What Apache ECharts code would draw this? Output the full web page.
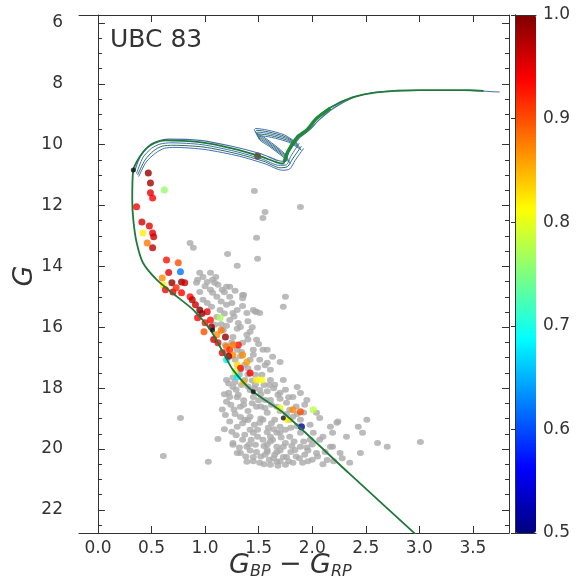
<!DOCTYPE html>
<html>
<head>
<meta charset="utf-8">
<script src="https://cdn.jsdelivr.net/npm/echarts@6/dist/echarts.min.js"></script>
<style>html,body{margin:0;padding:0;background:#fff}#c{width:582px;height:583px}</style>
</head>
<body>
<div id="c"></div>
<script>
// ---- data ----
const xTicks = [0.0, 0.5, 1.0, 1.5, 2.0, 2.5, 3.0, 3.5];
const yTicks = [6, 8, 10, 12, 14, 16, 18, 20, 22];
const yMinor = [6.5,7,7.5,8.5,9,9.5,10.5,11,11.5,12.5,13,13.5,14.5,15,15.5,16.5,17,17.5,18.5,19,19.5,20.5,21,21.5,22.5];
const cbTicks = [0.5, 0.6, 0.7, 0.8, 0.9, 1.0];

// field stars (grey) : [colour, G]
const fieldStars = [
 [1.46,11.52],[1.56,12.21],[1.54,12.41],[1.89,12.05],[1.48,13.06],[1.49,13.75],[0.86,13.23],[0.89,13.39],
 [1.21,13.59],[1.30,13.98],[1.75,15.0],[1.36,14.94],[1.47,15.49],[1.20,14.67],
 [0.95,14.21],[1.05,14.21],[0.93,14.44],[1.02,14.51],[1.07,14.44],[1.23,14.67],[1.35,14.94],[1.05,14.77],
 [0.95,14.84],[1.11,15.0],[1.23,15.0],[1.20,15.26],[1.30,15.43],[1.14,15.43],[1.06,15.33],[1.11,15.66],
 [1.23,15.76],[1.33,15.99],[1.17,16.09],[1.26,16.32],[1.35,16.51],[1.45,16.74],[1.30,16.74],[1.20,16.81],
 [1.02,15.20],[0.98,15.10],[1.16,14.77],[1.39,15.53],[1.45,15.43],[1.09,14.54],[1.51,15.53],[1.31,15.86],
 [1.39,16.25],[1.58,16.74],[1.34,16.81],[0.92,14.54],[1.07,14.87],[1.48,15.49],[1.26,15.53],[1.73,15.33],
 [1.48,16.41],[1.54,16.74],[1.63,16.97],[1.58,17.17],[1.42,17.07],[1.49,17.33],
 [1.09,15.92],[1.19,16.58],[1.28,17.07],[1.37,17.23],[1.47,17.56],[1.61,17.40],[1.51,17.07],[1.70,17.14],[1.65,17.89],
 [1.20,17.73],[1.26,17.96],[1.23,18.29],[1.33,18.61],[1.20,18.45],[1.30,19.27],[1.42,18.94],[1.51,19.14],
 [1.45,19.47],[1.26,19.80],[1.39,19.93],[1.33,20.13],[1.45,20.26],[1.58,20.03],[1.51,20.45],[1.67,20.42],
 [1.76,20.26],[1.82,20.45],[1.63,19.70],[1.73,19.93],[1.54,19.70],[1.70,19.27],[1.58,18.81],[1.45,18.29],
 [1.51,18.06],[1.61,17.73],[1.76,18.48],[1.67,18.61],[1.82,18.94],[1.79,19.60],[1.61,18.39],[1.67,19.47],
 [1.42,18.06],[1.48,18.61],[1.54,19.04],[1.61,19.60],[1.67,19.93],[1.73,20.26],[1.91,20.45],[1.89,19.93],
 [1.79,19.04],[1.89,19.47],[2.01,19.47],[2.04,18.81],[1.89,18.16],[1.86,17.96],[1.73,17.73],[1.82,18.29],
 [1.98,19.70],[2.04,20.13],[2.14,20.36],[2.19,19.93],[2.26,20.13],[2.35,20.45],[2.45,20.13],[2.23,19.14],
 [2.19,19.47],[2.32,19.60],[2.43,19.27],[2.51,19.04],[2.47,19.47],[2.61,19.80],[2.70,19.93],[3.01,19.77],
 [2.17,19.93],[0.77,18.98],[0.61,20.23],[1.03,20.42],[1.12,19.67],[1.26,19.86],[1.30,20.13],[1.39,20.42],
 [1.33,17.40],[1.37,17.73],[1.31,18.22],[1.37,19.04],[1.47,19.86],[1.56,20.19],[1.61,20.52],[1.75,20.52],
 [1.65,19.04],[1.56,18.39],[1.75,19.37],[1.84,20.03],[1.93,20.19],[1.98,19.20],[2.07,19.70],[1.37,19.53],
 [1.49,19.37],[1.59,19.30],[1.68,18.22],[1.53,17.56],[1.47,17.89],[1.79,18.71],[1.19,18.88],[1.25,19.43],
 [1.89,19.04],[1.93,18.55],[1.65,20.19],[1.42,19.37],[1.95,18.39],[2.07,18.98],[2.17,19.27],[2.24,19.10],
 [1.36,18.40],[1.29,18.05],[1.40,18.75],[1.52,18.60],[1.62,19.15],[1.71,19.62],[1.83,19.75],[1.95,19.95],
 [1.58,19.85],[1.48,20.10],[1.70,20.05],[1.38,20.25],[2.10,20.50],[2.00,20.35],[1.85,20.25],[1.60,20.35],
 [1.43,19.70],[1.35,19.15],[1.28,18.85],[1.24,18.55],[1.40,17.55],[1.55,17.90],[1.75,18.05],[1.85,18.60],
 [1.22,17.85],[1.28,17.80],[1.34,17.90],[1.40,17.95],[1.46,18.00],[1.52,18.20],[1.58,18.10],[1.64,18.00],[1.70,18.35],[1.78,18.30],
 [1.22,18.15],[1.30,18.30],[1.36,18.55],[1.44,18.50],[1.50,18.40],[1.56,18.65],[1.62,18.55],[1.70,18.75],[1.76,18.85],[1.86,18.85],
 [1.27,18.70],[1.33,18.95],[1.40,19.05],[1.46,19.20],[1.52,19.00],[1.58,19.45],[1.64,19.35],[1.70,19.45],[1.80,19.30],[1.86,19.25],
 [1.29,19.55],[1.35,19.70],[1.41,19.85],[1.49,19.60],[1.55,19.90],[1.61,19.75],[1.67,20.10],[1.75,19.80],[1.81,19.90],[1.92,19.75],
 [1.32,19.95],[1.42,20.05],[1.52,20.25],[1.58,20.10],[1.64,20.30],[1.70,20.40],[1.80,20.10],[1.88,20.30],[1.96,20.40],[2.05,20.25],
 [1.45,20.40],[1.55,20.50],[1.68,20.55],[1.78,20.40],[1.96,20.05],[2.12,20.10],[2.20,20.40],[2.28,20.30],[2.00,19.85],[2.10,19.60],
 [1.23,19.10],[1.18,19.35],[1.16,18.70],[1.18,18.20],[1.26,17.65],[1.32,17.55],[1.44,17.75],[1.60,17.90],[1.70,18.15],[1.92,18.80],
 [1.00,14.65],[1.12,14.60],[1.18,14.85],[1.28,14.80],[1.15,15.15],[1.25,15.20],[1.35,15.30],[1.18,15.55],[1.27,15.65],[1.40,15.80],
 [1.20,15.95],[1.30,16.05],[1.42,16.15],[1.25,16.50],[1.40,16.40],[1.50,16.55],[1.33,16.95],[1.45,16.90],[1.56,17.25],[1.40,17.35],
 [0.98,14.35],[1.10,14.35],[1.15,15.90],[1.35,15.05],[1.44,16.00]
];

// members : [colour, G, membership probability]
const members = [
 [0.47,10.93,0.99],[0.49,11.26,0.98],[0.49,11.58,0.95],[0.51,11.75,0.94],[0.62,11.49,0.76],[0.36,12.04,0.94],
 [0.41,12.54,0.96],[0.48,12.67,0.95],[0.51,12.90,0.95],[0.52,13.03,0.96],[0.42,12.90,0.82],[0.46,13.23,0.88],
 [0.51,13.39,0.97],[0.64,13.79,0.93],[0.75,13.88,0.90],[0.77,14.18,0.62],[0.60,14.38,0.87],[0.69,14.54,0.99],
 [0.78,14.51,0.99],[0.61,14.61,0.82],[0.63,14.77,0.94],[0.70,14.84,0.95],[0.78,14.87,0.94],[0.86,15.00,0.93],
 [0.81,14.54,0.96],[0.91,15.26,0.96],[0.95,15.43,1.00],[1.02,15.49,0.95],[0.93,15.69,0.94],[1.05,15.76,0.93],
 [1.14,15.69,0.77],[1.06,15.99,0.99],[0.99,16.15,0.90],[1.11,16.25,0.87],[1.19,16.32,0.99],[1.12,16.51,0.94],
 [1.20,16.64,0.88],[1.23,16.74,0.92],[1.16,16.84,0.95],[1.26,16.91,0.87],[1.35,16.91,0.87],[1.39,17.14,0.86],
 [1.20,17.07,0.68],[1.30,17.23,0.83],[1.42,17.50,0.94],[1.48,17.73,0.82],[1.53,17.73,0.81],[1.30,17.63,0.68],
 [1.31,16.58,0.93],[1.26,16.58,0.88],[1.70,18.65,0.80],[1.82,18.71,0.87],[1.89,18.78,0.90],[1.77,19.04,0.82],
 [1.90,19.27,0.52],[2.01,18.71,0.78],[1.49,10.37,0.99],
 [0.88,15.10,0.97],[0.97,15.55,0.99],[1.00,15.85,0.93],[1.08,16.40,0.96],[1.15,16.10,0.88],[1.22,16.95,0.99],
 [1.33,17.35,0.93],[1.36,17.80,0.85],[1.28,17.45,0.78],[0.73,14.70,0.92],[0.66,14.20,0.95]
];

// marked points on the isochrone
const isoMarks = [[0.33,10.83],[1.07,16.09],[1.45,18.12],[1.73,18.98]];

// best-fit isochrone (MS -> turn-off -> SGB -> RGB)
const isoMain = [
 [2.98,22.85],[2.35,20.82],[1.73,18.81],[1.45,18.12],[1.26,17.40],[1.17,16.84],[1.05,16.09],[0.89,15.43],
 [0.74,15.00],[0.55,14.44],[0.42,13.88],[0.36,13.20],[0.33,12.47],[0.32,11.81],[0.33,10.83],[0.39,10.40],
 [0.46,10.10],[0.53,9.94],[0.63,9.86],[0.95,9.92],[1.26,10.13],[1.51,10.38],[1.67,10.58],[1.73,10.62],
 [1.76,10.30],[1.86,9.76],[1.95,9.52],[2.04,9.14],[2.17,8.78],[2.38,8.44],[2.60,8.28],[3.00,8.21],[3.47,8.21],[3.60,8.23]
];
// lower red-giant branch, where the isochrones overlap (drawn thicker)
const rgbBase = [[1.74,10.55],[1.77,10.25],[1.86,9.76],[1.95,9.52],[2.04,9.14],[2.17,8.80]];
// neighbouring isochrones (turn-off, sub-giant branch, RGB)
const isoB = [[0.34,10.90],[0.40,10.35],[0.48,10.03],[0.56,9.88],[0.66,9.82],[0.95,9.86],[1.26,10.06],[1.52,10.30],[1.68,10.52],[1.75,10.55],[1.78,10.25],[1.88,9.78],[1.97,9.53],[2.07,9.17],[2.20,8.80],[2.40,8.43],[2.62,8.27],[3.00,8.22],[3.40,8.22],[3.75,8.27]];
const isoC = [[0.36,10.95],[0.42,10.42],[0.50,10.12],[0.58,9.98],[0.68,9.94],[0.97,10.00],[1.28,10.22],[1.53,10.47],[1.69,10.68],[1.76,10.66],[1.80,10.38],[1.88,9.95]];
const isoD = [[0.37,11.00],[0.44,10.50],[0.52,10.20],[0.60,10.05],[0.70,10.02],[0.99,10.08],[1.30,10.30],[1.55,10.55],[1.70,10.76],[1.77,10.72],[1.82,10.45],[1.90,10.05]];
const isoE = [[0.38,11.05],[0.45,10.57],[0.54,10.27],[0.62,10.12],[0.72,10.09],[1.00,10.16],[1.32,10.38],[1.56,10.63],[1.72,10.84],[1.79,10.80],[1.84,10.52],[1.92,10.12]];
// red-clump loops
const clump1 = [[1.86,9.95],[1.74,9.68],[1.58,9.52],[1.47,9.47],[1.46,9.53],[1.56,9.78],[1.68,10.10],[1.76,10.35]];
const clump2 = [[1.87,10.00],[1.75,9.74],[1.59,9.58],[1.48,9.53],[1.47,9.59],[1.57,9.85],[1.69,10.17],[1.77,10.42]];
const clump3 = [[1.88,10.06],[1.76,9.80],[1.60,9.64],[1.49,9.59],[1.48,9.66],[1.58,9.92],[1.70,10.24],[1.78,10.48]];
const clump4 = [[1.89,10.12],[1.77,9.86],[1.61,9.70],[1.50,9.65],[1.49,9.72],[1.59,9.99],[1.71,10.31],[1.79,10.55]];
const clump5 = [[1.90,10.18],[1.78,9.92],[1.62,9.76],[1.51,9.71],[1.50,9.79],[1.60,10.06],[1.72,10.38],[1.80,10.62]];

const jet = ['#00007f','#0000ff','#007fff','#00ffff','#7fff7f','#ffff00','#ff7f00','#ff0000','#7f0000'];

const axisCol = '#333';
const lblFont = {fontSize: 17, color: '#333', fontFamily: 'DejaVu Sans'};
const XMIN = -0.177, XMAX = 3.837, YMIN = 5.74, YMAX = 22.76;

function isoLine(data, color, width, z) {
  return {type: 'line', data: data, showSymbol: false, smooth: 0.25, silent: true,
          lineStyle: {color: color, width: width}, z: z, xAxisIndex: 0, yAxisIndex: 0};
}

const chart = echarts.init(document.getElementById('c'), null, {renderer: 'canvas'});
chart.setOption({
  animation: false,
  backgroundColor: '#fff',
  grid: [
    {left: 79, right: 73, top: 15, bottom: 50},
    {left: 515, width: 21, top: 15, height: 518}
  ],
  xAxis: [
    {type: 'value', gridIndex: 0, position: 'bottom', min: XMIN, max: XMAX, splitLine: {show: false},
     axisLine: {lineStyle: {color: axisCol, width: 1}},
     axisTick: {inside: true, length: 7, customValues: xTicks, lineStyle: {color: axisCol}},
     axisLabel: Object.assign({customValues: xTicks, margin: 7, formatter: v => v.toFixed(1)}, lblFont)},
    {type: 'value', gridIndex: 0, position: 'top', min: XMIN, max: XMAX, splitLine: {show: false},
     axisLine: {lineStyle: {color: axisCol, width: 1}},
     axisTick: {inside: true, length: 7, customValues: xTicks, lineStyle: {color: axisCol}},
     axisLabel: {show: false}},
    {type: 'value', gridIndex: 1, position: 'bottom', min: 0, max: 1, z: 10, splitLine: {show: false},
     axisLine: {lineStyle: {color: axisCol}}, axisTick: {show: false}, axisLabel: {show: false}},
    {type: 'value', gridIndex: 1, position: 'top', min: 0, max: 1, z: 10, splitLine: {show: false},
     axisLine: {lineStyle: {color: axisCol}}, axisTick: {show: false}, axisLabel: {show: false}}
  ],
  yAxis: [
    {type: 'value', gridIndex: 0, position: 'left', inverse: true, min: YMIN, max: YMAX, splitLine: {show: false},
     axisLine: {lineStyle: {color: axisCol, width: 1}},
     axisTick: {inside: true, length: 7, customValues: yTicks, lineStyle: {color: axisCol}},
     axisLabel: Object.assign({customValues: yTicks, margin: 16}, lblFont)},
    {type: 'value', gridIndex: 0, position: 'left', inverse: true, min: YMIN, max: YMAX, splitLine: {show: false},
     axisLine: {show: false},
     axisTick: {inside: true, length: 4, customValues: yMinor, lineStyle: {color: axisCol}},
     axisLabel: {show: false}},
    {type: 'value', gridIndex: 0, position: 'right', inverse: true, min: YMIN, max: YMAX, splitLine: {show: false},
     axisLine: {lineStyle: {color: axisCol, width: 1}},
     axisTick: {inside: true, length: 7, customValues: yTicks, lineStyle: {color: axisCol}},
     axisLabel: {show: false}},
    {type: 'value', gridIndex: 0, position: 'right', inverse: true, min: YMIN, max: YMAX, splitLine: {show: false},
     axisLine: {show: false},
     axisTick: {inside: true, length: 4, customValues: yMinor, lineStyle: {color: axisCol}},
     axisLabel: {show: false}},
    {type: 'value', gridIndex: 1, position: 'right', min: 0.5, max: 1.0, interval: 0.1, z: 10, splitLine: {show: false},
     axisLine: {lineStyle: {color: axisCol}},
     axisTick: {inside: true, length: 4, lineStyle: {color: axisCol}},
     axisLabel: Object.assign({margin: 7, formatter: v => v.toFixed(1)}, lblFont)},
    {type: 'value', gridIndex: 1, position: 'left', min: 0.5, max: 1.0, z: 10, splitLine: {show: false},
     axisLine: {lineStyle: {color: axisCol}}, axisTick: {show: false}, axisLabel: {show: false}}
  ],
  visualMap: [{
    type: 'continuous', seriesIndex: 1, dimension: 2, min: 0.5, max: 1.0,
    left: 515, top: 15, itemWidth: 21, itemHeight: 518, padding: 0,
    calculable: false, text: null, showLabel: false, realtime: false,
    inRange: {color: jet}, z: 2
  }],
  graphic: [
    {type: 'text', left: 110, top: 28, style: {text: 'UBC 83', font: '25px "DejaVu Sans"', fill: '#333'}},
    {type: 'text', x: 25, y: 276, rotation: Math.PI / 2,
     style: {text: 'G', font: 'italic 27px "DejaVu Sans"', fill: '#333', align: 'center', verticalAlign: 'middle'}},
    {type: 'text', x: 229, y: 579, style: {text: 'G', font: 'italic 27px "DejaVu Sans"', fill: '#333', align: 'left', verticalAlign: 'bottom'}},
    {type: 'text', x: 250, y: 580, style: {text: 'BP', font: 'italic 16px "DejaVu Sans"', fill: '#333', align: 'left', verticalAlign: 'bottom'}},
    {type: 'text', x: 279, y: 578, style: {text: '\u2212', font: '27px "DejaVu Sans"', fill: '#333', align: 'left', verticalAlign: 'bottom'}},
    {type: 'text', x: 310, y: 579, style: {text: 'G', font: 'italic 27px "DejaVu Sans"', fill: '#333', align: 'left', verticalAlign: 'bottom'}},
    {type: 'text', x: 331, y: 580, style: {text: 'RP', font: 'italic 16px "DejaVu Sans"', fill: '#333', align: 'left', verticalAlign: 'bottom'}}
  ],
  series: [
    {type: 'scatter', data: fieldStars, symbolSize: [7, 6], itemStyle: {color: '#aaaaaa'}, z: 2, xAxisIndex: 0, yAxisIndex: 0, silent: true},
    {type: 'scatter', data: members, symbolSize: 7, z: 3, xAxisIndex: 0, yAxisIndex: 0, silent: true},
    isoLine(isoE, '#3f6fb5', 1, 4),
    isoLine(isoD, '#2a6f5a', 1, 4),
    isoLine(isoC, '#3f6fb5', 1, 4),
    isoLine(isoB, '#4a70a8', 1.2, 4),
    isoLine(clump5, '#3f6fb5', 1, 4),
    isoLine(clump4, '#2a6f5a', 1, 4),
    isoLine(clump3, '#3f6fb5', 1, 4),
    isoLine(clump2, '#2a6f5a', 1, 4),
    isoLine(clump1, '#3f6fb5', 1, 4),
    isoLine(isoMain, '#1f7a3a', 1.8, 5),
    isoLine(rgbBase, '#1f8a3a', 3.5, 5),
    {type: 'scatter', data: isoMarks, symbolSize: 5, itemStyle: {color: '#111'}, z: 6, xAxisIndex: 0, yAxisIndex: 0, silent: true}
  ]
});
</script>
</body>
</html>
